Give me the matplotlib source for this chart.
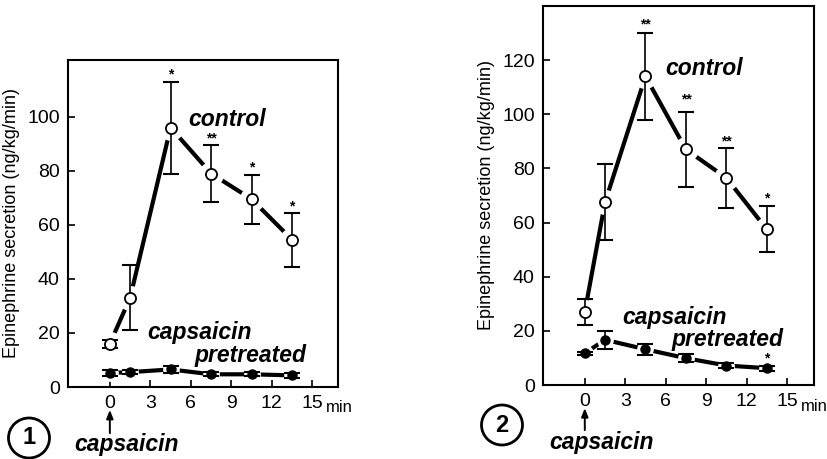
import matplotlib
matplotlib.use("Agg")
import matplotlib.pyplot as plt
from matplotlib.patches import Ellipse
import matplotlib.transforms as mtransforms

plt.rcParams['font.family'] = ['Liberation Sans', 'DejaVu Sans']

# ---------------- data ----------------
time = [0, 1.5, 4.5, 7.5, 10.5, 13.5]

p1_control = [16, 33, 96, 79, 69.5, 54.5]
p1_control_err = [1.5, 12, 17, 10.5, 9, 10]
p1_pre = [5.2, 5.5, 6.5, 4.7, 4.7, 4.3]
p1_pre_err = [1.2, 0.8, 1.2, 0.8, 0.8, 0.8]
p1_ctrl_stars = ["", "", "*", "**", "*", "*"]
p1_ctrl_star_y = [None, None, 115.5, 92, 81.2, 66.7]

p2_control = [27, 67.5, 114, 87, 76.5, 57.5]
p2_control_err = [4.7, 14, 16, 14, 11, 8.5]
p2_pre = [11.7, 16.7, 13.2, 9.9, 7.2, 6.2]
p2_pre_err = [0.6, 3.3, 2, 1.5, 1, 1]
p2_ctrl_stars = ["", "", "**", "**", "**", "*"]
p2_ctrl_star_y = [None, None, 133, 105.3, 89.8, 68.8]
p2_pre_stars = ["", "", "", "", "", "*"]
p2_pre_star_y = [None, None, None, None, None, 9.9]

xticks = [0, 3, 6, 9, 12, 15]
p1_yticks = [0, 20, 40, 60, 80, 100]
p2_yticks = [0, 20, 40, 60, 80, 100, 120]

ylabel = "Epinephrine secretion (ng/kg/min)"

fig = plt.figure(figsize=(8.28, 4.59), dpi=100)

ax1 = fig.add_axes([68/828, 1-387/459, 270/828, 327/459])
ax2 = fig.add_axes([543/828, 1-385/459, 271/828, 379/459])

bold_it = dict(fontweight='bold', fontstyle='italic', fontsize=16.5, color='black')


def draw_series(ax, y, err, filled, halo):
    ax.plot(time, y, color='black', lw=3.0, zorder=1, solid_capstyle='butt')
    ax.plot(time, y, ls='none', marker='o', ms=halo, mfc='white', mec='white', zorder=2)
    ax.errorbar(time, y, yerr=err, fmt='none', ecolor='black', elinewidth=1.2,
                capsize=5.5, capthick=1.5, zorder=3)
    if filled:
        ax.plot(time, y, ls='none', marker='o', ms=6.5, mfc='black', mec='black', zorder=4)
    else:
        ax.plot(time, y, ls='none', marker='o', ms=8, mfc='white', mec='black',
                mew=1.3, zorder=4)


def stars(ax, labels, ys):
    for t, s, yy in zip(time, labels, ys):
        if s:
            ax.text(t, yy, s, ha='center', va='center', fontsize=10,
                    fontweight='bold', zorder=5)


def style(ax, ylim, yticks, xlim):
    ax.set_xlim(*xlim)
    ax.set_ylim(*ylim)
    ax.set_xticks(xticks)
    ax.set_yticks(yticks)
    ax.tick_params(direction='in', length=5, width=1.2, labelsize=14, pad=6)
    for sp in ax.spines.values():
        sp.set_linewidth(1.5)
    ax.set_ylabel(ylabel, fontsize=13, labelpad=5)


def extras(ax, num, arrow_tip, arrow_tail, cap_x, cap_y, min_y, circ_xy):
    trans = mtransforms.blended_transform_factory(ax.transData, ax.transAxes)
    ax.annotate("", xy=(0, arrow_tip), xycoords=trans,
                xytext=(0, arrow_tail), textcoords=trans,
                arrowprops=dict(arrowstyle='-|>,head_length=0.5,head_width=0.2',
                                color='black', lw=1.4, shrinkA=0, shrinkB=0),
                annotation_clip=False)
    ax.text(cap_x, cap_y, "capsaicin", transform=trans, ha='left', va='center',
            clip_on=False, **bold_it)
    ax.text(16.0, min_y, "min", transform=trans, ha='left', va='center',
            fontsize=12, clip_on=False)
    cx, cy = circ_xy
    e = Ellipse((cx/828, 1-cy/459), 41/828, 40/459, transform=fig.transFigure,
                fill=False, lw=2.0, ec='black')
    fig.patches.append(e)
    fig.text(cx/828, 1-cy/459, num, ha='center', va='center', fontsize=17,
             fontweight='bold')


# panel 1
draw_series(ax1, p1_control, p1_control_err, False, 17)
draw_series(ax1, p1_pre, p1_pre_err, True, 11)
stars(ax1, p1_ctrl_stars, p1_ctrl_star_y)
style(ax1, (0, 121), p1_yticks, (-3.1, 16.9))
ax1.text(5.8, 99, "control", ha='left', va='center', **bold_it)
ax1.text(2.8, 20, "capsaicin", ha='left', va='center', **bold_it)
ax1.text(6.3, 11.8, "pretreated", ha='left', va='center', **bold_it)
extras(ax1, "1", -0.070, -0.141, -2.6, -0.177, -0.064, (29, 438))

# panel 2
draw_series(ax2, p2_control, p2_control_err, False, 17)
draw_series(ax2, p2_pre, p2_pre_err, True, 11)
stars(ax2, p2_ctrl_stars, p2_ctrl_star_y)
stars(ax2, p2_pre_stars, p2_pre_star_y)
style(ax2, (0, 140), p2_yticks, (-3.1, 17.0))
ax2.text(6.0, 117, "control", ha='left', va='center', **bold_it)
ax2.text(2.75, 24.8, "capsaicin", ha='left', va='center', **bold_it)
ax2.text(6.4, 16.7, "pretreated", ha='left', va='center', **bold_it)
extras(ax2, "2", -0.061, -0.119, -2.67, -0.153, -0.058, (502, 425))

fig.savefig("out.png", dpi=100)
